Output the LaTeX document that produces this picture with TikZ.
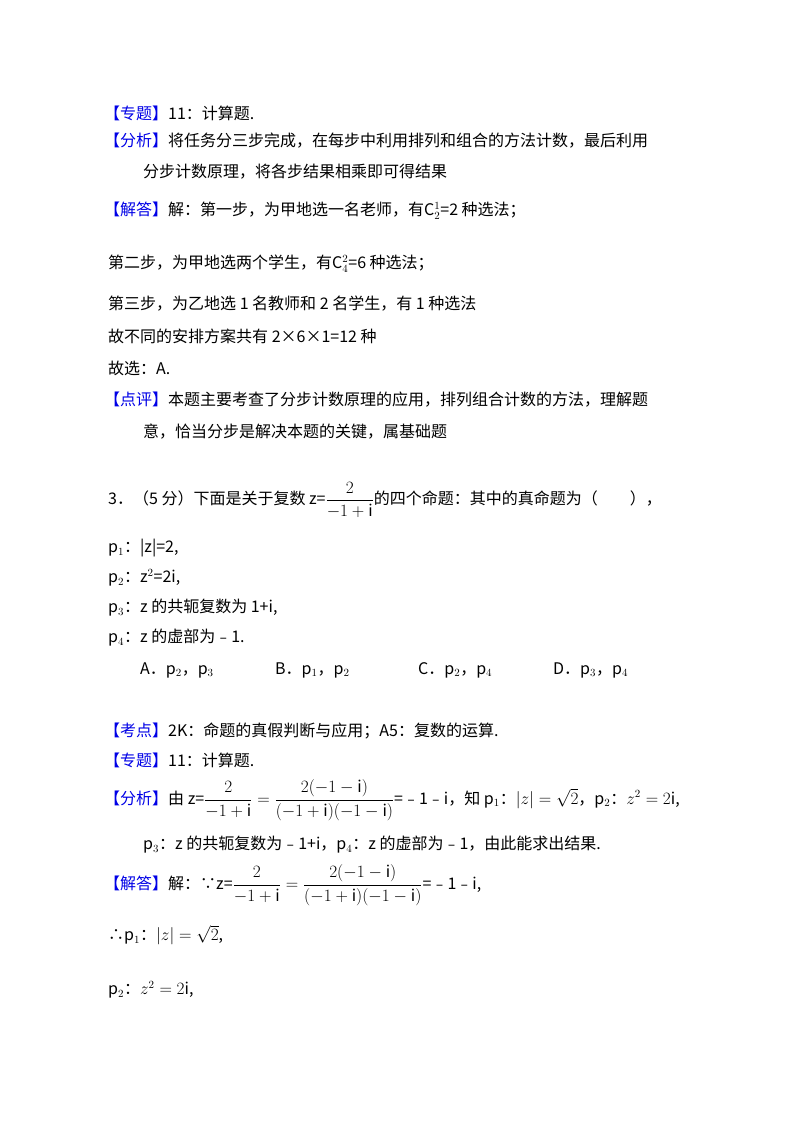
\documentclass[tikz,border=0pt]{standalone}
\usepackage{fontspec}
\setmainfont{Noto Sans CJK SC}
\definecolor{tagblue}{RGB}{0,0,230}
\begin{document}
\begin{tikzpicture}[x=1pt,y=-1pt,
  t/.style={anchor=west,inner sep=0pt,font=\fontsize{16}{18}\selectfont},
  tag/.style={text=tagblue}]
\useasboundingbox (0,0) rectangle (800,1133);
\newcommand{\tg}[1]{\textcolor{tagblue}{【#1】}}
\newcommand{\fr}[2]{{\displaystyle\frac{#1}{#2}}}
\node[t] (l1) at (104,113) {\tg{专题}11：计算题.};
\node[t] (l2) at (104,141) {\tg{分析}将任务分三步完成，在每步中利用排列和组合的方法计数，最后利用};
\node[t] (l3) at (143,172) {分步计数原理，将各步结果相乘即可得结果};
\node[t] (l4) at (104,211) {\tg{解答}解：第一步，为甲地选一名老师，有$\mathrm{C}_2^1$=2 种选法；};
\node[t] (l5) at (108,264) {第二步，为甲地选两个学生，有$\mathrm{C}_4^2$=6 种选法；};
\node[t] (l6) at (108,304) {第三步，为乙地选 1 名教师和 2 名学生，有 1 种选法};
\node[t] (l7) at (108,336) {故不同的安排方案共有 2×6×1=12 种};
\node[t] (l8) at (108,368) {故选：A.};
\node[t] (l9) at (104,400) {\tg{点评}本题主要考查了分步计数原理的应用，排列组合计数的方法，理解题};
\node[t] (l10) at (143,432) {意，恰当分步是解决本题的关键，属基础题};
\node[t] (q) at (108,500) {3．（5 分）下面是关于复数 z=$\fr{2}{-1+\mathrm{i}}$的四个命题：其中的真命题为（　　），};
\node[t] (p1) at (108,548) {p$_1$：|z|=2,};
\node[t] (p2) at (108,578) {p$_2$：z$^2$=2i,};
\node[t] (p3) at (108,608) {p$_3$：z 的共轭复数为 1+i,};
\node[t] (p4) at (108,638) {p$_4$：z 的虚部为﹣1.};
\node[t] (oA) at (140,670) {A．p$_2$，p$_3$};
\node[t] (oB) at (275,670) {B．p$_1$，p$_2$};
\node[t] (oC) at (418,670) {C．p$_2$，p$_4$};
\node[t] (oD) at (553,670) {D．p$_3$，p$_4$};
\node[t] (k1) at (104,731) {\tg{考点}2K：命题的真假判断与应用；A5：复数的运算.};
\node[t] (k2) at (104,760) {\tg{专题}11：计算题.};
\node[t] (k3) at (104,800) {\tg{分析}由 z=$\fr{2}{-1+\mathrm{i}}=\fr{2(-1-\mathrm{i})}{(-1+\mathrm{i})(-1-\mathrm{i})}$=﹣1﹣i，知 $\mathrm{p}_1$：$|z|=\sqrt{2}$，$\mathrm{p}_2$：$z^2=2\mathrm{i}$,};
\node[t] (k4) at (143,845) {p$_3$：z 的共轭复数为﹣1+i，p$_4$：z 的虚部为﹣1，由此能求出结果.};
\node[t] (k5) at (104,885) {\tg{解答}解：∵z=$\fr{2}{-1+\mathrm{i}}=\fr{2(-1-\mathrm{i})}{(-1+\mathrm{i})(-1-\mathrm{i})}$=﹣1﹣i,};
\node[t] (k6) at (108,935) {∴$\mathrm{p}_1$：$|z|=\sqrt{2}$,};
\node[t] (k7) at (108,990) {$\mathrm{p}_2$：$z^2=2\mathrm{i}$,};
\end{tikzpicture}
\end{document}
